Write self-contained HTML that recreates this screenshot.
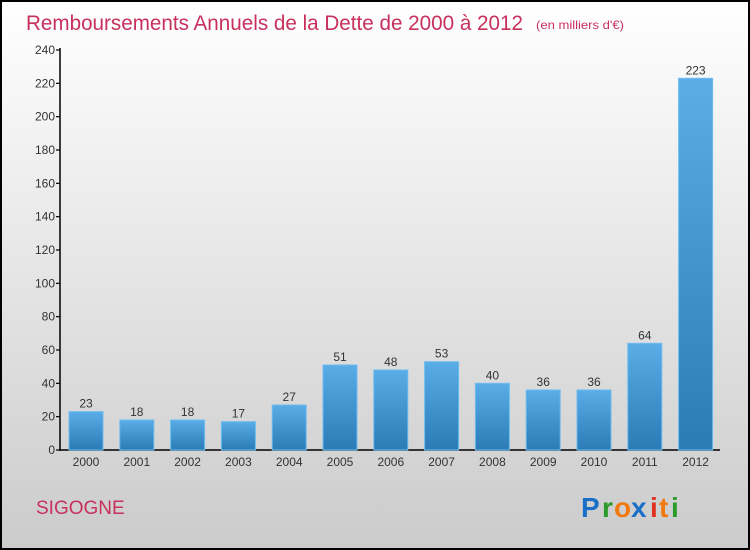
<!DOCTYPE html>
<html><head><meta charset="utf-8"><style>
html,body{margin:0;padding:0;width:750px;height:550px;overflow:hidden}
text{font-family:"Liberation Sans",sans-serif}
</style></head><body>
<svg width="750" height="550" xmlns="http://www.w3.org/2000/svg">
<defs>
<linearGradient id="bg" x1="0" y1="0" x2="0" y2="1"><stop offset="0" stop-color="#ffffff"/><stop offset="1" stop-color="#cbcbcb"/></linearGradient>
<linearGradient id="bar" x1="0" y1="0" x2="0" y2="1"><stop offset="0" stop-color="#5aade6"/><stop offset="1" stop-color="#2a7bb6"/></linearGradient>
</defs>
<rect x="1" y="1" width="748" height="548" fill="url(#bg)" stroke="#000" stroke-width="2"/>
<text x="26" y="30" font-size="21" fill="#c8305e" textLength="497" lengthAdjust="spacingAndGlyphs">Remboursements Annuels de la Dette de 2000 à 2012</text>
<text x="536" y="29" font-size="12" fill="#c8305e" textLength="88" lengthAdjust="spacingAndGlyphs">(en milliers d'€)</text>
<g id="axes" stroke="#000" stroke-width="1.5">
<line x1="60" y1="48" x2="60" y2="451"/>
<line x1="60" y1="450" x2="720" y2="450"/>
</g>
<text x="36" y="514" font-size="19" fill="#c8305e">SIGOGNE</text>
<g font-size="28" font-weight="bold" font-family="Liberation Sans">
<text x="581" y="517" fill="#1a6fc8">P</text><text x="602" y="517" fill="#2a9a2a">r</text><text x="614" y="517" fill="#f07a10">o</text><text x="631" y="517" fill="#1a6fc8">x</text><text x="650" y="517" fill="#e03020">i</text><text x="659" y="517" fill="#f07a10">t</text><text x="671" y="517" fill="#2a9a2a">i</text>
</g>
</svg>
<script>
var ns="http://www.w3.org/2000/svg",s=document.querySelector('svg');
function el(t,a,txt){var e=document.createElementNS(ns,t);for(var k in a)e.setAttribute(k,a[k]);if(txt!=null)e.textContent=txt;s.appendChild(e);return e;}
for(var v=0;v<=240;v+=20){var y=450-v*400/240;el('line',{x1:56,y1:y,x2:60,y2:y,stroke:'#000','stroke-width':1.2});el('text',{x:55,y:y+4,'font-size':12,fill:'#333','text-anchor':'end'},v);}
var d=[23,18,18,17,27,51,48,53,40,36,36,64,223];
d.forEach(function(v,i){var cx=86+i*50.8,h=v*400/240,y=450-h;
el('rect',{x:cx-17,y:y,width:34,height:h,fill:'url(#bar)',stroke:'#6cbcf0','stroke-width':1});
el('text',{x:cx,y:y-4,'font-size':12,fill:'#333','text-anchor':'middle'},v);
el('text',{x:cx,y:466,'font-size':12,fill:'#333','text-anchor':'middle'},2000+i);});
</script>
</body></html>
